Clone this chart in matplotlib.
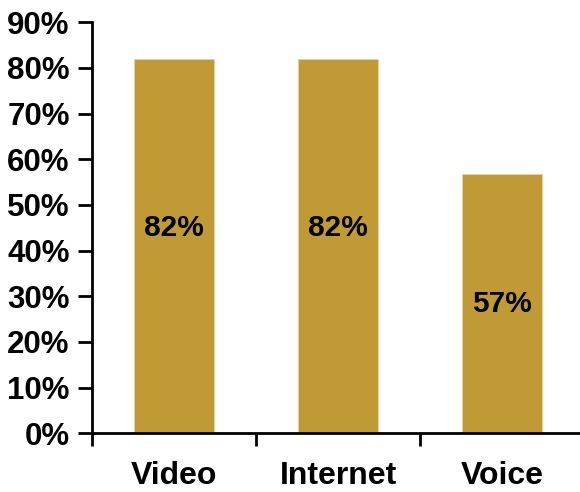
import matplotlib
matplotlib.use("Agg")
import matplotlib.pyplot as plt
from matplotlib.ticker import MultipleLocator, FuncFormatter

categories = ["Video", "Internet", "Voice"]
values = [82.0, 82.0, 56.7]
labels = ["82%", "82%", "57%"]

plt.rcParams["font.family"] = ["Liberation Sans", "DejaVu Sans"]
plt.rcParams["font.weight"] = "bold"

fig = plt.figure(figsize=(5.8, 4.92), dpi=100)
ax = fig.add_axes([0.1586, 0.1193, 0.8484, 0.8354])

x = range(len(categories))
ax.bar(x, values, width=0.49, color="#C09A34", edgecolor="#E6D3A0", linewidth=0.6)

# value labels inside the bars
for i, (v, lab) in enumerate(zip(values, labels)):
    y = v / 2 + (4 if v > 70 else 0)
    ax.text(i, y, lab, ha="center", va="center", fontsize=21.5, fontweight="bold")

ax.set_xlim(-0.5, 2.5)
ax.set_ylim(0, 90)
ax.yaxis.set_major_locator(MultipleLocator(10))
ax.yaxis.set_major_formatter(FuncFormatter(lambda v, p: f"{v:.0f}%"))

# category names centred under bars, tick marks between them
ax.set_xticks([-0.5, 0.5, 1.5, 2.5])
ax.set_xticklabels([])
ax.set_xticks(list(x), minor=True)
ax.set_xticklabels(categories, minor=True, fontsize=23, fontweight="bold")
ax.tick_params(axis="x", which="minor", length=0, pad=20)
ax.tick_params(axis="x", which="major", length=9, width=2, direction="out")
ax.tick_params(axis="y", length=10, width=2, direction="out", pad=6, labelsize=22.5)

for s in ["top", "right"]:
    ax.spines[s].set_visible(False)
for s in ["left", "bottom"]:
    ax.spines[s].set_linewidth(2)

fig.savefig("out.png", dpi=100)
